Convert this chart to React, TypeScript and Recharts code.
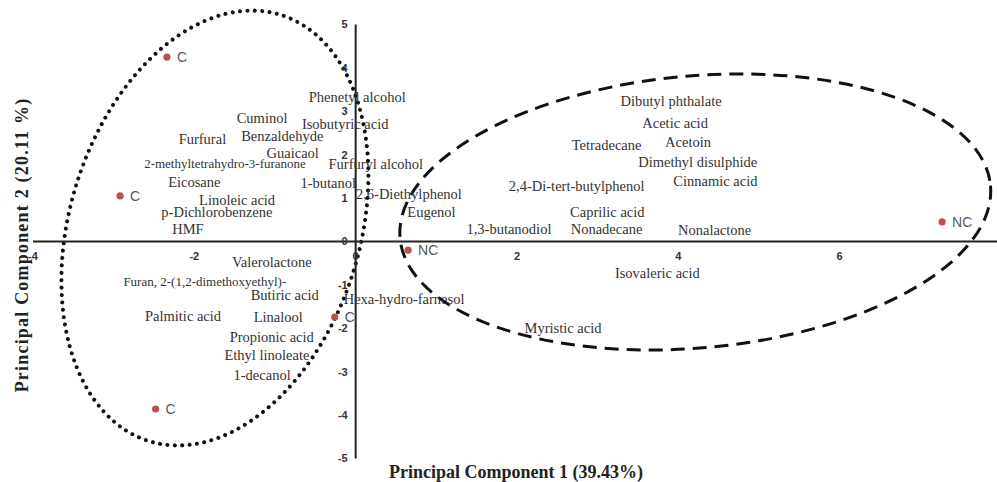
import React from 'react';
import {
  ScatterChart, Scatter, XAxis, YAxis,
  ReferenceLine, ReferenceDot, ReferenceArea,
} from 'recharts';

// PCA biplot - scores (samples) and loadings (volatile compounds)

const W = 997;
const H = 482;

// sample scores
const sampleNames = ['C', 'C', 'C', 'C', 'NC', 'NC'];
const sampleX = [-2.34, -2.92, -2.48, -0.26, 0.65, 7.27];
const sampleY = [4.25, 1.05, -3.86, -1.74, -0.2, 0.45];

// compound loadings (label centres)
const compoundNames = [
  'Phenetyl alcohol', 'Cuminol', 'Isobutyric acid', 'Furfural', 'Benzaldehyde',
  'Guaicaol', '2-methyltetrahydro-3-furanone', 'Furfuryl alcohol', 'Eicosane', '1-butanol',
  '2,6-Diethylphenol', 'Linoleic acid', 'p-Dichlorobenzene', 'Eugenol', 'HMF',
  '1,3-butanodiol', 'Caprilic acid', 'Nonadecane', '2,4-Di-tert-butylphenol', 'Tetradecane',
  'Dibutyl phthalate', 'Acetic acid', 'Acetoin', 'Dimethyl disulphide', 'Cinnamic acid',
  'Nonalactone', 'Valerolactone', 'Isovaleric acid', 'Furan, 2-(1,2-dimethoxyethyl)-', 'Butiric acid',
  'Hexa-hydro-farnesol', 'Palmitic acid', 'Linalool', 'Propionic acid', 'Ethyl linoleate',
  '1-decanol', 'Myristic acid',
];
const compoundX = [
  0.02, -1.16, -0.13, -1.90, -0.91,
  -0.78, -1.62, 0.25, -2.00, -0.34,
  0.66, -1.47, -1.72, 0.94, -2.08,
  1.90, 3.12, 3.11, 2.74, 3.11,
  3.91, 3.96, 4.12, 4.24, 4.46,
  4.45, -1.04, 3.74, -1.87, -0.88,
  0.60, -2.14, -0.96, -1.04, -1.10,
  -1.16, 2.57,
];
const compoundY = [
  3.33, 2.85, 2.71, 2.36, 2.43,
  2.04, 1.79, 1.79, 1.37, 1.35,
  1.09, 0.96, 0.68, 0.68, 0.29,
  0.29, 0.68, 0.29, 1.28, 2.22,
  3.24, 2.73, 2.29, 1.83, 1.39,
  0.26, -0.47, -0.73, -0.93, -1.23,
  -1.32, -1.72, -1.74, -2.20, -2.62,
  -3.08, -1.99,
];

// axis ticks
const xTicks = [-4, -2, 0, 2, 4, 6];
const yTicks = [5, 4, 3, 2, 1, 0, -1, -2, -3, -4, -5];

// group ellipses: centre, half-axes (in axis units), tilt in degrees
const groupCx = [-1.745, 4.21];
const groupCy = [0.31, 0.68];
const groupRx = [1.80, 3.674];
const groupRy = [5.14, 3.134];
const groupTilt = [17.1, -5.1];

const samples = sampleNames.map((name, i) => ({ name, x: sampleX[i], y: sampleY[i] }));
const compounds = compoundNames.map((name, i) => ({ name, x: compoundX[i], y: compoundY[i] }));

const SERIF = "'Liberation Serif', 'Times New Roman', serif";
const SANS = "'Liberation Sans', Arial, sans-serif";

const ELLIPSE_STYLE = [
  { dash: '0 7.4', width: 4, cap: 'round' as const },
  { dash: '14 8', width: 3, cap: 'butt' as const },
];

function EllipseShape(props: any) {
  const { x, y, width, height, tilt, dash, sw, cap } = props;
  const cx = x + width / 2;
  const cy = y + height / 2;
  return (
    <ellipse
      cx={cx} cy={cy}
      rx={Math.abs(width) / 2} ry={Math.abs(height) / 2}
      transform={`rotate(${tilt} ${cx} ${cy})`}
      fill="none" stroke="#111" strokeWidth={sw}
      strokeDasharray={dash} strokeLinecap={cap}
    />
  );
}

function SampleDot(props: any) {
  const { cx, cy, payload } = props;
  if (cx == null || cy == null) return null;
  return (
    <g>
      <circle cx={cx} cy={cy} r={3.6} fill="#c0504d" />
      <text x={cx + 10} y={cy} dominantBaseline="central"
        fontFamily={SANS} fontSize={14} fill="#595959">
        {payload.name}
      </text>
    </g>
  );
}

function CompoundLabel(props: any) {
  const { cx, cy, payload } = props;
  if (cx == null || cy == null) return null;
  const small = payload.name.length > 28;
  return (
    <text x={cx} y={cy} textAnchor="middle" dominantBaseline="central"
      fontFamily={SERIF} fontSize={small ? 13 : 14.5} fill="#333">
      {payload.name}
    </text>
  );
}

const tickLabel = {
  fontSize: 11, fontWeight: 700, fill: '#333', fontFamily: SANS,
};

export default function App() {
  return (
    <div style={{
      position: 'absolute', left: 0, top: 0, width: W, height: H,
      overflow: 'hidden', background: '#fff',
    }}>
      <ScatterChart width={W} height={H}
        margin={{ top: 24.5, right: -4, bottom: 23.5, left: 33 }}>
        <XAxis type="number" dataKey="x" domain={[-4, 8]} hide />
        <YAxis type="number" dataKey="y" domain={[-5, 5]} hide />

        <Scatter data={compounds} shape={<CompoundLabel />} isAnimationActive={false} />

        {/* axes crossing at the origin */}
        <ReferenceLine y={0} stroke="#222" strokeWidth={2} />
        <ReferenceLine x={0} stroke="#222" strokeWidth={2} />

        {xTicks.map(v => (
          <ReferenceDot key={`xt${v}`} x={v} y={0} r={0} fill="none" stroke="none"
            ifOverflow="visible"
            label={{ value: String(v), position: 'bottom', offset: 11, ...tickLabel }} />
        ))}
        {yTicks.map(v => (
          <ReferenceDot key={`yt${v}`} x={0} y={v} r={0} fill="none" stroke="none"
            ifOverflow="visible"
            label={{ value: String(v), position: 'left', offset: 8, ...tickLabel }} />
        ))}

        {groupCx.map((cx, i) => (
          <ReferenceArea key={`g${i}`}
            x1={cx - groupRx[i]} x2={cx + groupRx[i]}
            y1={groupCy[i] - groupRy[i]} y2={groupCy[i] + groupRy[i]}
            ifOverflow="visible"
            shape={(p: any) => (
              <EllipseShape {...p} tilt={groupTilt[i]}
                dash={ELLIPSE_STYLE[i].dash} sw={ELLIPSE_STYLE[i].width} cap={ELLIPSE_STYLE[i].cap} />
            )}
          />
        ))}

        <Scatter data={samples} shape={<SampleDot />} isAnimationActive={false} />
      </ScatterChart>

      <div style={{
        position: 'absolute', left: 316, top: 463, width: 400, textAlign: 'center',
        fontFamily: SERIF, fontWeight: 700, fontSize: 18, lineHeight: '18px', color: '#222',
      }}>
        Principal Component 1 (39.43%)
      </div>
      <div style={{
        position: 'absolute', left: -138, top: 234, width: 320, height: 22,
        textAlign: 'center', transform: 'rotate(-90deg)',
        fontFamily: SERIF, fontWeight: 700, fontSize: 18, lineHeight: '22px',
        letterSpacing: 1.2, color: '#222', whiteSpace: 'nowrap',
      }}>
        Principal Component 2 (20.11 %)
      </div>
    </div>
  );
}
